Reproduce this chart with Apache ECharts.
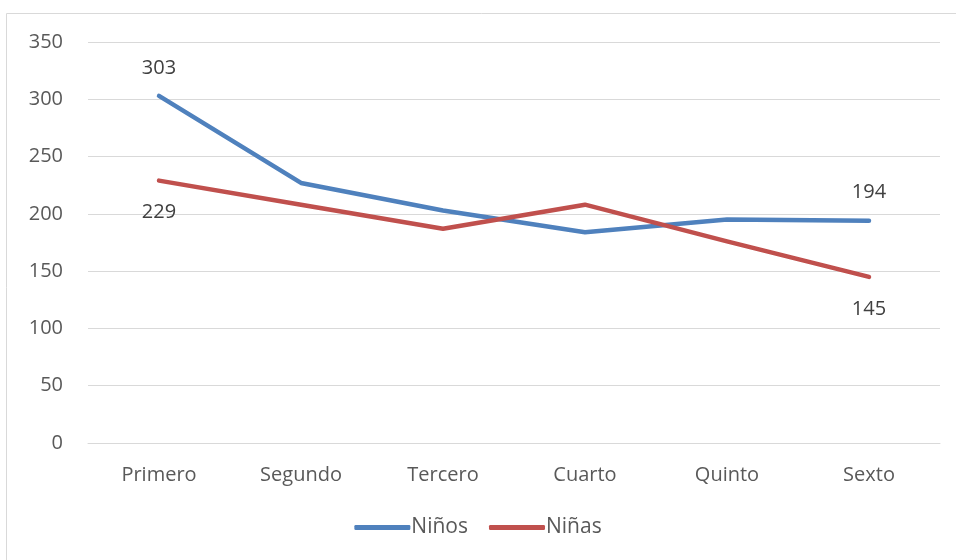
<!DOCTYPE html>
<html><head><meta charset="utf-8">
<script src="https://cdn.jsdelivr.net/npm/echarts@6/dist/echarts.min.js"></script>
<style>html,body{margin:0;padding:0;background:#fff}#c{width:956px;height:560px}</style>
</head><body><div id="c"></div>
<script>
const categories = ['Primero','Segundo','Tercero','Cuarto','Quinto','Sexto'];
const ninos = [303, 227, 203, 184, 195, 194];
const ninas = [229, 208, 187, 208, 176, 145];
const yTicks = [0, 50, 100, 150, 200, 250, 300, 350];

const font = '"Open Sans", "Noto Sans", sans-serif';
const chart = echarts.init(document.getElementById('c'), null, {renderer:'canvas'});
function endLabels(pos, dist){
  return {
    show: true, position: pos, distance: dist, fontSize: 20, color: '#404040', fontFamily: font,
    formatter: p => (p.dataIndex === 0 || p.dataIndex === categories.length-1) ? String(p.value) : ''
  };
}
chart.setOption({
  animation: false,
  graphic: [{type:'rect', shape:{x:6.5,y:13.5,width:960,height:560}, style:{fill:'none', stroke:'#d9d9d9', lineWidth:1}}],
  grid: {left: 88, right: 16, top: 42, bottom: 117},
  legend: {
    bottom: 17, left: 'center', itemWidth: 56, itemHeight: 5, itemGap: 21, icon: 'roundRect',
    textStyle: {fontSize: 21, color: '#595959', fontFamily: font, padding:[0,0,0,-4]},
    data: ['Niños','Niñas']
  },
  xAxis: {
    type: 'category', data: categories, boundaryGap: true,
    axisLine: {lineStyle: {color: '#d9d9d9', width: 1}},
    axisTick: {show: false},
    axisLabel: {fontSize: 20, color: '#595959', fontFamily: font, margin: 22}
  },
  yAxis: {
    type: 'value', min: yTicks[0], max: yTicks[yTicks.length-1], interval: 50,
    axisLine: {show: false}, axisTick: {show: false},
    splitLine: {lineStyle: {color: '#d9d9d9', width: 1}},
    axisLabel: {fontSize: 20, color: '#595959', fontFamily: font, margin: 25, align: 'right'}
  },
  series: [
    {name: 'Niños', type: 'line', data: ninos, symbol: 'circle', symbolSize: 0.01, showSymbol: true,
     itemStyle: {color: '#4f81bd'}, color: '#4f81bd',
     lineStyle: {width: 4.5, color: '#4f81bd', cap: 'round', join: 'round'}, label: endLabels('top', 18)},
    {name: 'Niñas', type: 'line', data: ninas, symbol: 'circle', symbolSize: 0.01, showSymbol: true,
     itemStyle: {color: '#c0504d'}, color: '#c0504d',
     lineStyle: {width: 4.5, color: '#c0504d', cap: 'round', join: 'round'}, label: endLabels('bottom', 22)}
  ]
});
</script></body></html>
